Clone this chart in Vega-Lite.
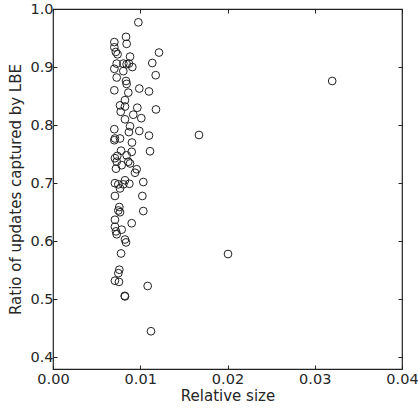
{
  "$schema": "https://vega.github.io/schema/vega-lite/v6.json",
  "width": 349,
  "height": 360,
  "autosize": "none",
  "padding": {"left": 53, "top": 9, "right": 16, "bottom": 39},
  "background": "white",
  "config": {
    "view": {"stroke": "#222", "strokeWidth": 1.2},
    "font": "DejaVu Sans",
    "axis": {"grid": false, "domain": false, "labelFont": "DejaVu Sans", "titleFont": "DejaVu Sans", "labelFontSize": 14.5, "titleFontSize": 15, "titleFontWeight": "normal", "labelColor": "#262626", "titleColor": "#262626", "tickColor": "#222", "tickSize": -4, "labelFlush": false, "labelOverlap": false, "labelBound": false}
  },
  "data": {"values": [
    {"x": 0.00978, "y": 0.977},
    {"x": 0.00703, "y": 0.943},
    {"x": 0.00837, "y": 0.952},
    {"x": 0.00844, "y": 0.940},
    {"x": 0.00703, "y": 0.934},
    {"x": 0.0072, "y": 0.926},
    {"x": 0.0074, "y": 0.922},
    {"x": 0.00883, "y": 0.918},
    {"x": 0.01215, "y": 0.925},
    {"x": 0.01138, "y": 0.907},
    {"x": 0.0073, "y": 0.906},
    {"x": 0.00806, "y": 0.906},
    {"x": 0.00844, "y": 0.905},
    {"x": 0.0087, "y": 0.906},
    {"x": 0.00909, "y": 0.900},
    {"x": 0.00703, "y": 0.897},
    {"x": 0.00806, "y": 0.893},
    {"x": 0.01177, "y": 0.886},
    {"x": 0.0073, "y": 0.882},
    {"x": 0.00837, "y": 0.876},
    {"x": 0.00844, "y": 0.871},
    {"x": 0.00703, "y": 0.860},
    {"x": 0.00989, "y": 0.863},
    {"x": 0.0110, "y": 0.858},
    {"x": 0.00863, "y": 0.856},
    {"x": 0.00825, "y": 0.843},
    {"x": 0.00768, "y": 0.834},
    {"x": 0.00825, "y": 0.832},
    {"x": 0.00966, "y": 0.830},
    {"x": 0.0118, "y": 0.827},
    {"x": 0.00776, "y": 0.823},
    {"x": 0.0092, "y": 0.818},
    {"x": 0.01012, "y": 0.812},
    {"x": 0.00825, "y": 0.810},
    {"x": 0.00883, "y": 0.798},
    {"x": 0.00703, "y": 0.793},
    {"x": 0.0087, "y": 0.788},
    {"x": 0.00989, "y": 0.790},
    {"x": 0.0110, "y": 0.782},
    {"x": 0.0071, "y": 0.777},
    {"x": 0.00768, "y": 0.777},
    {"x": 0.00703, "y": 0.774},
    {"x": 0.00905, "y": 0.770},
    {"x": 0.01112, "y": 0.755},
    {"x": 0.00902, "y": 0.754},
    {"x": 0.0078, "y": 0.756},
    {"x": 0.00737, "y": 0.747},
    {"x": 0.0071, "y": 0.743},
    {"x": 0.00844, "y": 0.748},
    {"x": 0.00863, "y": 0.737},
    {"x": 0.0073, "y": 0.737},
    {"x": 0.00787, "y": 0.731},
    {"x": 0.00883, "y": 0.734},
    {"x": 0.00722, "y": 0.725},
    {"x": 0.00959, "y": 0.724},
    {"x": 0.0094, "y": 0.718},
    {"x": 0.01035, "y": 0.702},
    {"x": 0.0071, "y": 0.700},
    {"x": 0.00749, "y": 0.698},
    {"x": 0.00825, "y": 0.705},
    {"x": 0.00806, "y": 0.698},
    {"x": 0.00875, "y": 0.699},
    {"x": 0.00768, "y": 0.691},
    {"x": 0.0071, "y": 0.678},
    {"x": 0.01024, "y": 0.678},
    {"x": 0.0076, "y": 0.659},
    {"x": 0.00749, "y": 0.653},
    {"x": 0.00768, "y": 0.650},
    {"x": 0.01035, "y": 0.652},
    {"x": 0.0071, "y": 0.637},
    {"x": 0.00902, "y": 0.631},
    {"x": 0.0071, "y": 0.625},
    {"x": 0.00722, "y": 0.617},
    {"x": 0.00787, "y": 0.620},
    {"x": 0.0073, "y": 0.612},
    {"x": 0.00825, "y": 0.603},
    {"x": 0.00837, "y": 0.598},
    {"x": 0.0078, "y": 0.579},
    {"x": 0.0076, "y": 0.551},
    {"x": 0.00749, "y": 0.545},
    {"x": 0.0071, "y": 0.532},
    {"x": 0.00756, "y": 0.530},
    {"x": 0.01085, "y": 0.523},
    {"x": 0.00825, "y": 0.505},
    {"x": 0.00822, "y": 0.506},
    {"x": 0.01123, "y": 0.445},
    {"x": 0.0320, "y": 0.876},
    {"x": 0.01673, "y": 0.783},
    {"x": 0.02006, "y": 0.578}
  ]},
  "layer": [
    {
      "mark": {"type": "point", "shape": "circle", "filled": false, "size": 60, "stroke": "#222", "strokeWidth": 1, "opacity": 1},
      "encoding": {
        "x": {"field": "x", "type": "quantitative", "title": "Relative size", "scale": {"domain": [0, 0.04], "nice": false, "zero": false}, "axis": {"values": [0, 0.01, 0.02, 0.03, 0.04], "format": ".2f", "orient": "bottom", "labelPadding": 7, "titlePadding": 3}},
        "y": {"field": "y", "type": "quantitative", "title": "Ratio of updates captured by LBE", "scale": {"domain": [0.38, 1.0], "nice": false, "zero": false}, "axis": {"values": [0.4, 0.5, 0.6, 0.7, 0.8, 0.9, 1.0], "format": ".1f", "orient": "left", "labelPadding": 4, "titlePadding": 6}}
      }
    },
    {
      "mark": {"type": "point", "opacity": 0},
      "encoding": {
        "x": {"field": "x", "type": "quantitative", "scale": {"domain": [0, 0.04], "nice": false, "zero": false}, "axis": {"values": [0, 0.01, 0.02, 0.03, 0.04], "orient": "top", "labels": false, "title": null}},
        "y": {"field": "y", "type": "quantitative", "scale": {"domain": [0.38, 1.0], "nice": false, "zero": false}, "axis": {"values": [0.4, 0.5, 0.6, 0.7, 0.8, 0.9, 1.0], "orient": "right", "labels": false, "title": null}}
      }
    }
  ],
  "resolve": {"axis": {"x": "independent", "y": "independent"}}
}
